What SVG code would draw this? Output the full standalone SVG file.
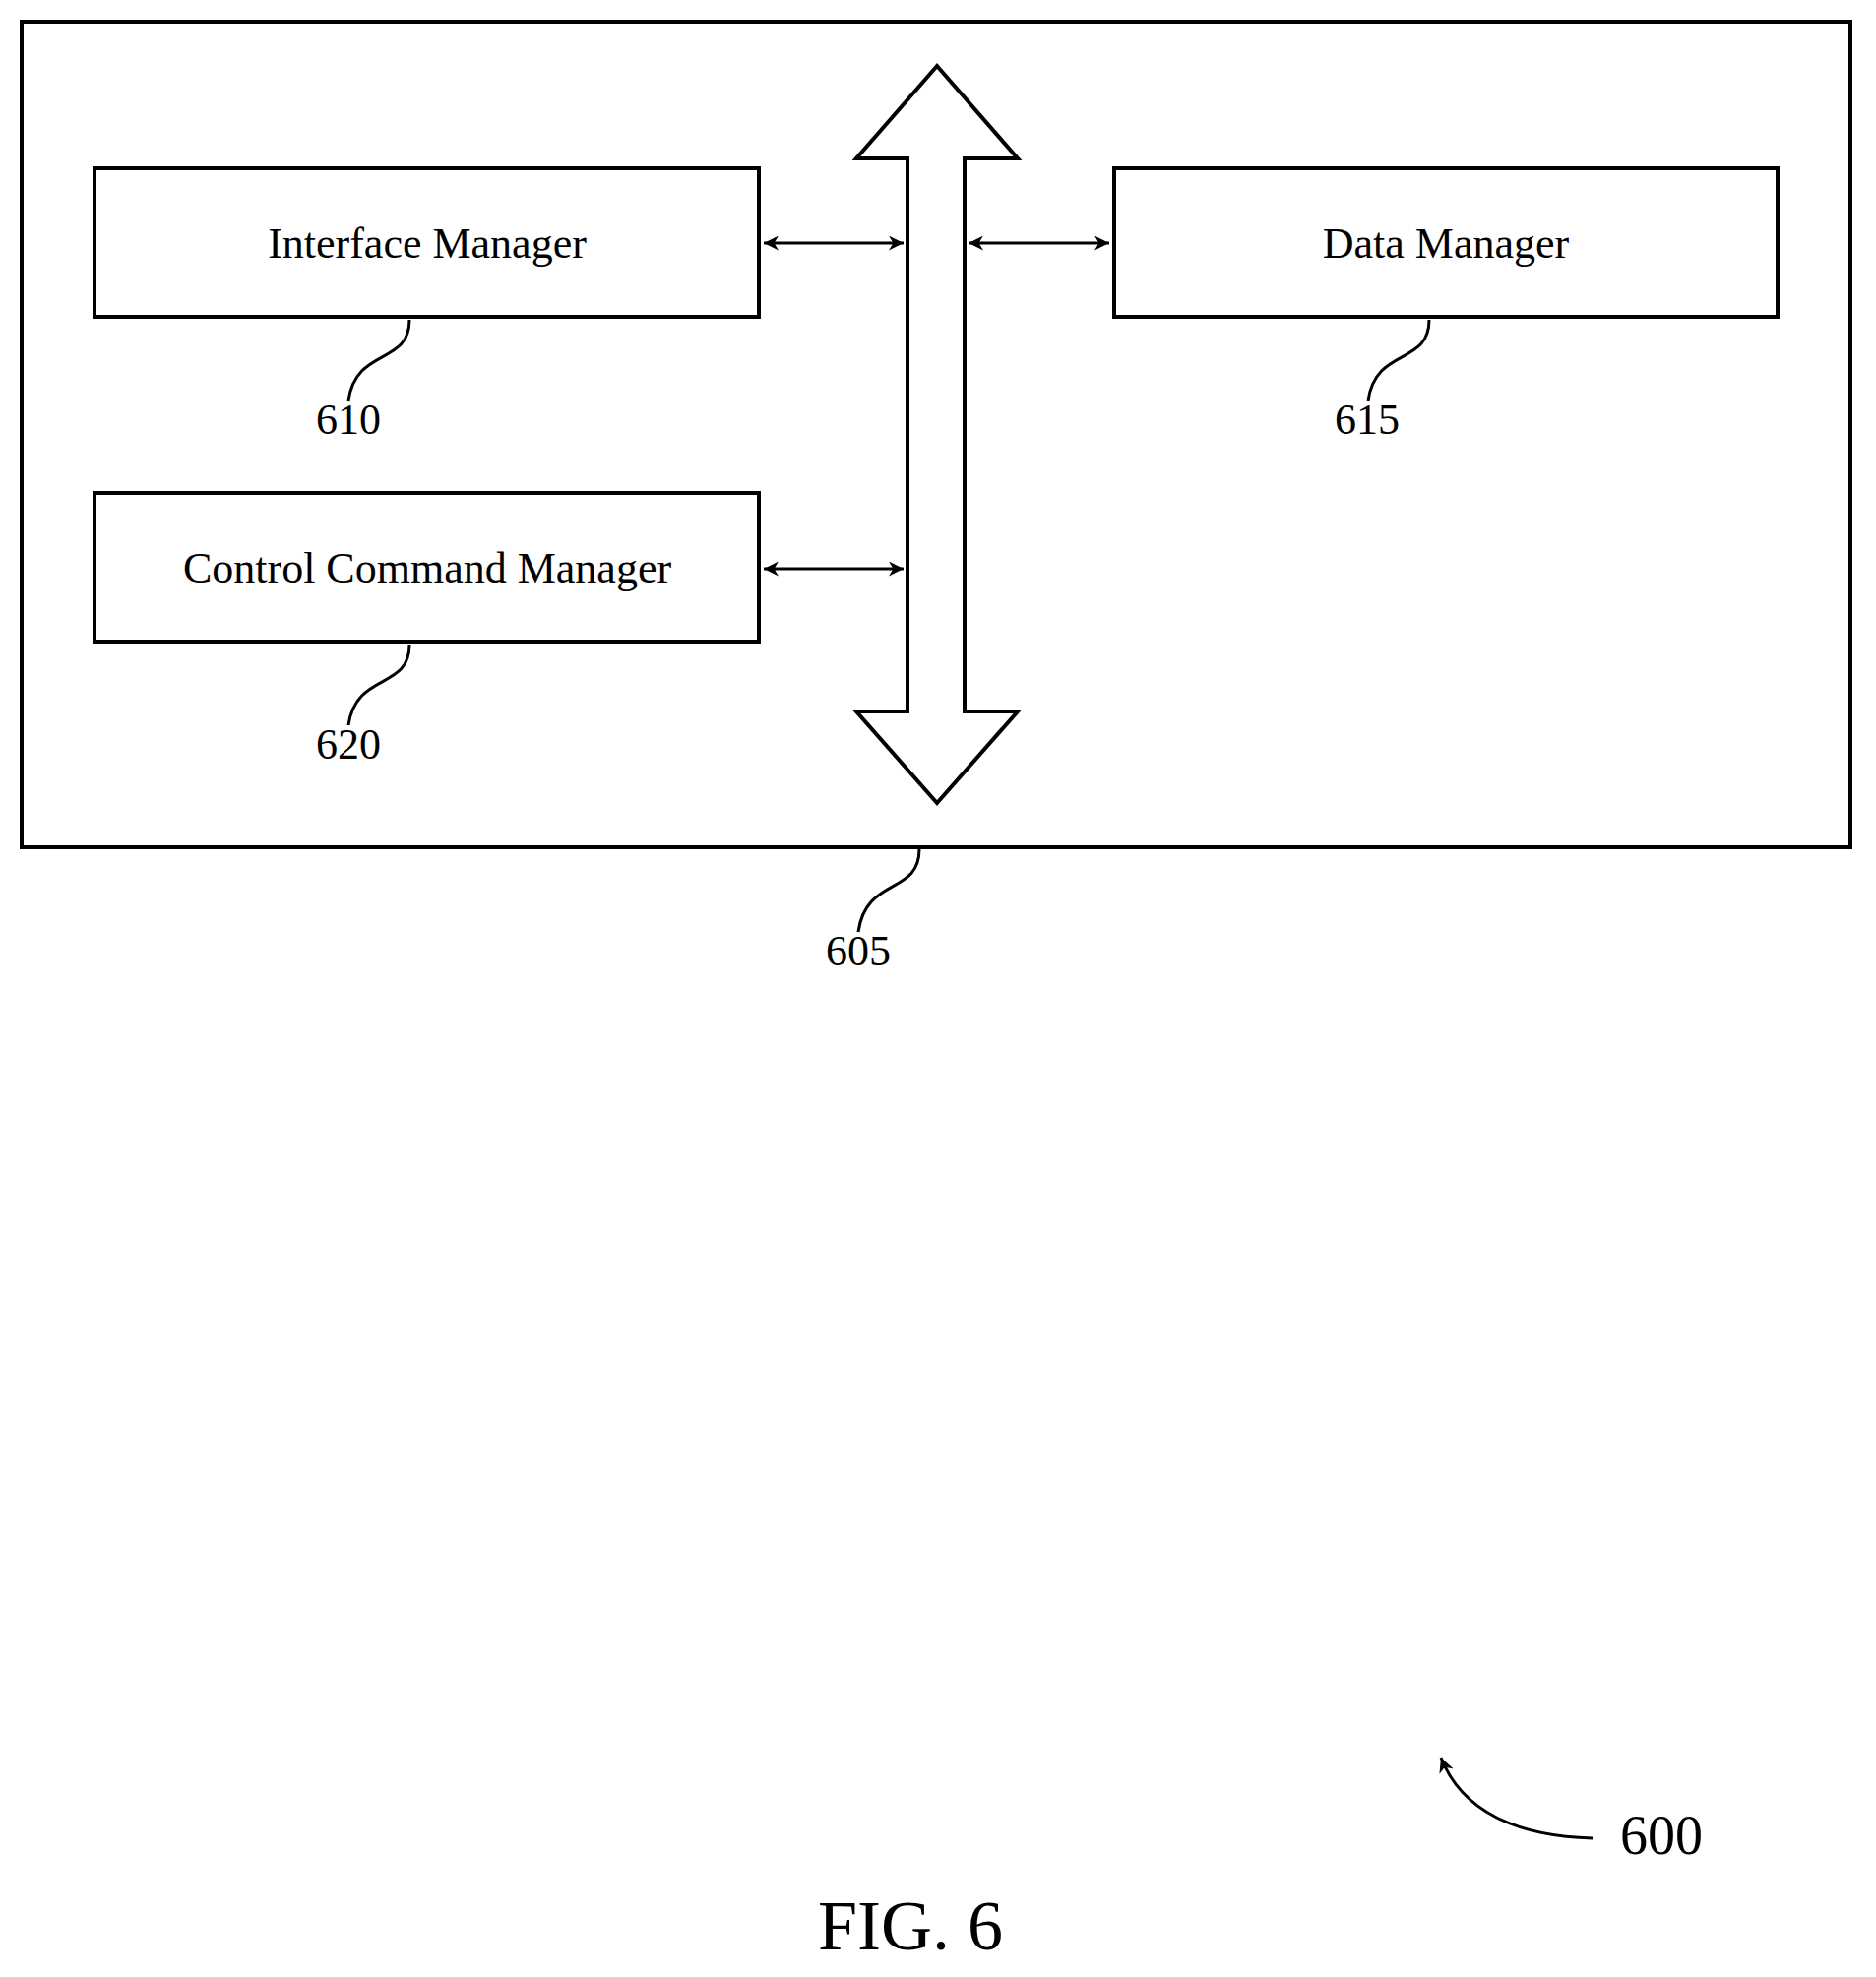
<svg xmlns="http://www.w3.org/2000/svg" width="1906" height="2009" viewBox="0 0 1906 2009">
<defs>
<style>
.b{fill:none;stroke:#000;stroke-width:4}
.t{font-family:"Liberation Serif",serif;font-size:44px;text-anchor:middle}
.l{fill:none;stroke:#000;stroke-width:3}
</style>
<marker id="a" viewBox="0 0 10 10" refX="10" refY="5" markerWidth="5" markerHeight="5" orient="auto-start-reverse"><path d="M0,0L10,5L0,10L3,5z"/></marker>
</defs>
<rect width="1906" height="2009" fill="#fff"/>
<g id="n605"><rect class="b" x="22" y="22" width="1858" height="839"/>
<path class="l" d="M934,863C934,910 880,890 872,947"/><text class="t" x="872" y="981">605</text></g>
<g id="bus"><path class="b" d="M952,67L1034,161L980,161L980,723L1034,723L952,816L870,723L922,723L922,161L870,161Z"/></g>
<g id="n610"><rect class="b" x="96" y="171" width="675" height="151"/><text class="t" x="434" y="262">Interface Manager</text>
<path class="l" d="M416,325C416,372 362,352 354,407"/><text class="t" x="354" y="441">610</text></g>
<g id="n615"><rect class="b" x="1132" y="171" width="674" height="151"/><text class="t" x="1469" y="262">Data Manager</text>
<path class="l" d="M1452,325C1452,372 1398,352 1390,407"/><text class="t" x="1389" y="441">615</text></g>
<g id="n620"><rect class="b" x="96" y="501" width="675" height="151"/><text class="t" x="434" y="592">Control Command Manager</text>
<path class="l" d="M416,655C416,702 362,682 354,737"/><text class="t" x="354" y="771">620</text></g>
<g id="connectors">
<line class="l" x1="776" y1="247" x2="918" y2="247" marker-start="url(#a)" marker-end="url(#a)"/>
<line class="l" x1="984" y1="247" x2="1127" y2="247" marker-start="url(#a)" marker-end="url(#a)"/>
<line class="l" x1="776" y1="578" x2="918" y2="578" marker-start="url(#a)" marker-end="url(#a)"/>
</g>
<g id="n600"><path class="l" d="M1618,1868C1540,1866 1485,1840 1464,1786" marker-end="url(#a)"/>
<text x="1688" y="1884" style="font-family:'Liberation Serif',serif;font-size:56px;text-anchor:middle">600</text></g>
<text x="925" y="1981" style="font-family:'Liberation Serif',serif;font-size:72px;text-anchor:middle">FIG. 6</text>
</svg>
